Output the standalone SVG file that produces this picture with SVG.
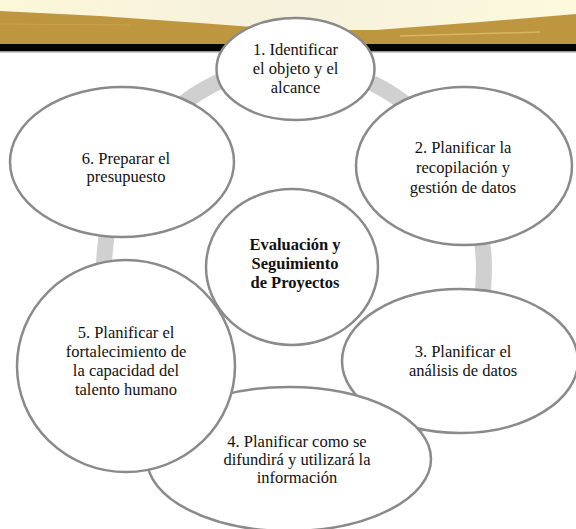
<svg xmlns="http://www.w3.org/2000/svg" width="576" height="529" viewBox="0 0 576 529">
<defs>
<linearGradient id="cream" x1="0" y1="0" x2="1" y2="0">
<stop offset="0" stop-color="#fbf7d9"/>
<stop offset="0.5" stop-color="#f6f1dc"/>
<stop offset="1" stop-color="#fcf9dd"/>
</linearGradient>
<style>
.node{fill:#ffffff;stroke:#8a8a8a;stroke-width:2.5}
.ring{fill:none;stroke:#d0d0d0;stroke-width:16}
</style>
</defs>
<rect width="576" height="529" fill="#ffffff"/>
<g id="banner">
<rect x="0" y="0" width="576" height="45" fill="url(#cream)"/>
<polygon points="0,11 100,16 200,23 290,30 376,30 480,22 576,14 576,45 0,45" fill="#bd963f"/>
<path d="M0,24 L130,25" stroke="#cfa955" stroke-width="1.2" opacity="0.7"/>
<path d="M400,36 L540,32" stroke="#e0bd6a" stroke-width="1.5" opacity="0.8"/>
<rect x="0" y="44" width="576" height="7" fill="#050505"/>
<rect x="0" y="51" width="576" height="1.5" fill="#9a9a9a"/>
</g>
<g id="connectors">
<ellipse class="ring" cx="294" cy="270" rx="190" ry="205"/>
</g>
<g font-family="Liberation Serif, Times New Roman, serif" font-size="16.5" fill="#111111" text-anchor="middle">
<g id="node1">
<ellipse class="node" cx="295.5" cy="69" rx="79" ry="51"/>
<text x="295.5" y="55">1. Identificar</text>
<text x="295.5" y="74">el objeto y el</text>
<text x="295.5" y="93">alcance</text>
</g>
<g id="node2">
<ellipse class="node" cx="464" cy="166" rx="108" ry="79"/>
<text x="463" y="153">2. Planificar la</text>
<text x="463" y="173">recopilación y</text>
<text x="463" y="193">gestión de datos</text>
</g>
<g id="node3">
<ellipse class="node" cx="460" cy="361" rx="118" ry="72"/>
<text x="463" y="357">3. Planificar el</text>
<text x="463" y="376">análisis de datos</text>
</g>
<g id="node4">
<ellipse class="node" cx="289" cy="459" rx="142" ry="72"/>
<text x="297" y="447">4. Planificar como se</text>
<text x="297" y="465">difundirá y utilizará la</text>
<text x="297" y="483">información</text>
</g>
<g id="node5">
<ellipse class="node" cx="126" cy="366" rx="109" ry="106"/>
<text x="126" y="338">5. Planificar el</text>
<text x="126" y="357">fortalecimiento de</text>
<text x="126" y="376">la capacidad del</text>
<text x="126" y="395">talento humano</text>
</g>
<g id="node6">
<ellipse class="node" cx="122" cy="162" rx="112" ry="75"/>
<text x="126" y="164">6. Preparar el</text>
<text x="126" y="182">presupuesto</text>
</g>
<g id="center">
<ellipse class="node" cx="292" cy="267" rx="86" ry="78"/>
<text font-weight="bold" x="295" y="250">Evaluación y</text>
<text font-weight="bold" x="295" y="269">Seguimiento</text>
<text font-weight="bold" x="295" y="288">de Proyectos</text>
</g>
</g>
</svg>
